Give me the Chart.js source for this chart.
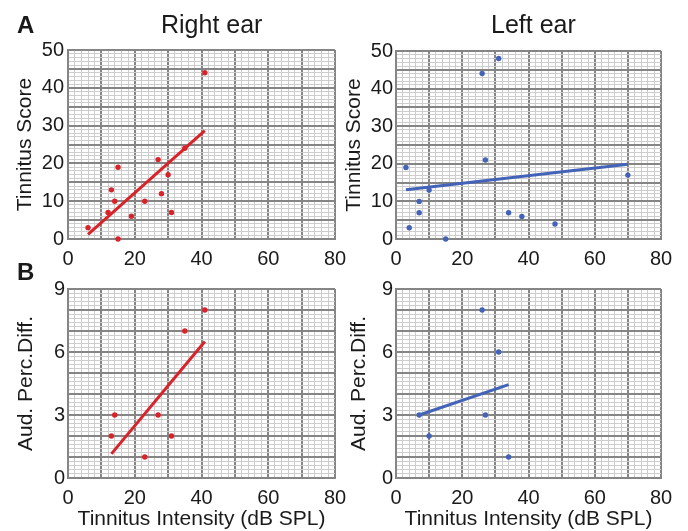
<!DOCTYPE html>
<html>
<head>
<meta charset="utf-8">
<script src="https://cdn.jsdelivr.net/npm/chart.js@4"></script>
<style>
  body { margin: 0; background: #fff; }
  #wrap { position: relative; width: 688px; height: 531px; overflow: hidden; font-family: "Liberation Sans", Arial, sans-serif; color: #1a1a1a; }
  #wrap canvas { position: absolute; left: 0; top: 0; }
  .lbl { position: absolute; font-size: 25px; line-height: 25px; white-space: nowrap; }
  .bold { font-weight: bold; font-size: 24px; }
</style>
</head>
<body>
<div id="wrap">
  <canvas id="scoreRight" width="688" height="531"></canvas>
  <canvas id="scoreLeft" width="688" height="531"></canvas>
  <canvas id="diffRight" width="688" height="531"></canvas>
  <canvas id="diffLeft" width="688" height="531"></canvas>
  <div class="lbl bold" style="left:17px;top:12px;">A</div>
  <div class="lbl bold" style="left:17px;top:259px;">B</div>
  <div class="lbl" style="left:161px;top:12px;">Right ear</div>
  <div class="lbl" style="left:491px;top:12px;">Left ear</div>
</div>
<script>
const RED = "#d9232a";
const BLUE = "#4263b8";

// Tinnitus score vs intensity
const rightScoreX = [6, 12, 13, 14, 15, 15, 19, 23, 27, 28, 30, 31, 35, 41];
const rightScoreY = [3, 7, 13, 10, 19, 0, 6, 10, 21, 12, 17, 7, 24, 44];
const rightScoreFitX = [6, 41];
const rightScoreFitY = [1.2, 28.7];

const leftScoreX = [3, 4, 7, 7, 10, 15, 26, 27, 31, 34, 38, 48, 70];
const leftScoreY = [19, 3, 10, 7, 13, 0, 44, 21, 48, 7, 6, 4, 17];
const leftScoreFitX = [3, 70];
const leftScoreFitY = [13.1, 19.9];

// Auditory perception difference vs intensity
const rightDiffX = [13, 14, 23, 27, 31, 35, 41];
const rightDiffY = [2, 3, 1, 3, 2, 7, 8];
const rightDiffFitX = [13, 41];
const rightDiffFitY = [1.15, 6.5];

const leftDiffX = [7, 10, 26, 27, 31, 34];
const leftDiffY = [3, 2, 8, 3, 6, 1];
const leftDiffFitX = [7, 34];
const leftDiffFitY = [3.0, 4.45];

const xTicksLabelled = [0, 20, 40, 60, 80];
const scoreTicksLabelled = [0, 10, 20, 30, 40, 50];
const diffTicksLabelled = [0, 3, 6, 9];

const FONT = "'Liberation Sans', Arial, sans-serif";
const MAJOR = "#858585";
const MINOR = "#cdcdcd";

function near(v, list) {
  return list.some((t) => Math.abs(t - v) < 1e-6);
}

function isMultiple(v, m) {
  const r = v / m;
  return Math.abs(r - Math.round(r)) < 1e-6;
}

function toPoints(xs, ys) {
  return xs.map((x, i) => ({ x, y: ys[i] }));
}

function makePanel(id, opt) {
  const ctx = document.getElementById(id);
  return new Chart(ctx, {
    type: "scatter",
    data: {
      datasets: [
        {
          data: toPoints(opt.fitX, opt.fitY),
          showLine: true,
          borderColor: opt.color,
          borderWidth: 3,
          pointRadius: 0,
          clip: false
        },
        {
          data: toPoints(opt.xs, opt.ys),
          backgroundColor: opt.color,
          borderWidth: 0,
          pointRadius: 2.7,
          clip: false
        }
      ]
    },
    options: {
      responsive: false,
      animation: false,
      layout: {
        padding: { left: opt.padLeft, top: opt.area.top, right: 688 - opt.area.right, bottom: opt.padBottom }
      },
      plugins: { legend: { display: false }, tooltip: { enabled: false } },
      scales: {
        x: {
          type: "linear",
          min: 0,
          max: 80,
          afterFit: (s) => { s.height = (531 - opt.padBottom) - opt.area.bottom; },
          ticks: {
            stepSize: 2,
            autoSkip: false,
            maxRotation: 0,
            padding: 8,
            color: "#1a1a1a",
            font: { family: FONT, size: 20 },
            callback: (v) => (near(v, xTicksLabelled) ? String(v) : "")
          },
          grid: {
            drawTicks: false,
            color: (c) => (isMultiple(c.tick.value, 10) ? MAJOR : MINOR),
            lineWidth: (c) => (isMultiple(c.tick.value, 10) ? 2 : 1)
          },
          border: { color: MAJOR, width: 2 },
          title: {
            display: !!opt.xTitle,
            text: opt.xTitle || "",
            color: "#1a1a1a",
            font: { family: FONT, size: 21, lineHeight: 1.0 },
            padding: { top: 0, bottom: 0 }
          }
        },
        y: {
          type: "linear",
          min: 0,
          max: opt.yMax,
          afterFit: (s) => { s.width = opt.area.left - opt.padLeft; },
          ticks: {
            stepSize: opt.yStep,
            autoSkip: false,
            padding: opt.tickPad,
            color: "#1a1a1a",
            font: { family: FONT, size: 20 },
            callback: (v) => (near(v, opt.yLabels) ? String(Math.round(v)) : "")
          },
          grid: {
            drawTicks: false,
            color: (c) => (isMultiple(c.tick.value, opt.yMajor) ? MAJOR : MINOR),
            lineWidth: (c) => (isMultiple(c.tick.value, opt.yMajor) ? 2 : 1)
          },
          border: { color: MAJOR, width: 2 },
          title: {
            display: true,
            text: opt.yTitle,
            color: "#1a1a1a",
            font: { family: FONT, size: 21 },
            padding: { top: 0, bottom: 0 }
          }
        }
      }
    }
  });
}

makePanel("scoreRight", {
  xs: rightScoreX, ys: rightScoreY, fitX: rightScoreFitX, fitY: rightScoreFitY, color: RED,
  area: { left: 68, top: 50, right: 335, bottom: 239 }, padLeft: 13, padBottom: 266, tickPad: 4,
  yMax: 50, yStep: 1, yMajor: 5, yLabels: scoreTicksLabelled, yTitle: "Tinnitus Score"
});

makePanel("scoreLeft", {
  xs: leftScoreX, ys: leftScoreY, fitX: leftScoreFitX, fitY: leftScoreFitY, color: BLUE,
  area: { left: 396, top: 51, right: 661, bottom: 239 }, padLeft: 342, padBottom: 266, tickPad: 3,
  yMax: 50, yStep: 1, yMajor: 5, yLabels: scoreTicksLabelled, yTitle: "Tinnitus Score"
});

makePanel("diffRight", {
  xs: rightDiffX, ys: rightDiffY, fitX: rightDiffFitX, fitY: rightDiffFitY, color: RED,
  area: { left: 68, top: 289, right: 335, bottom: 478 }, padLeft: 14, padBottom: 1, tickPad: 3,
  yMax: 9, yStep: 0.2, yMajor: 1, yLabels: diffTicksLabelled, yTitle: "Aud. Perc.Diff.",
  xTitle: "Tinnitus Intensity (dB SPL)"
});

makePanel("diffLeft", {
  xs: leftDiffX, ys: leftDiffY, fitX: leftDiffFitX, fitY: leftDiffFitY, color: BLUE,
  area: { left: 396, top: 289, right: 661, bottom: 478 }, padLeft: 347, padBottom: 1, tickPad: 3,
  yMax: 9, yStep: 0.2, yMajor: 1, yLabels: diffTicksLabelled, yTitle: "Aud. Perc.Diff.",
  xTitle: "Tinnitus Intensity (dB SPL)"
});
</script>
</body>
</html>
